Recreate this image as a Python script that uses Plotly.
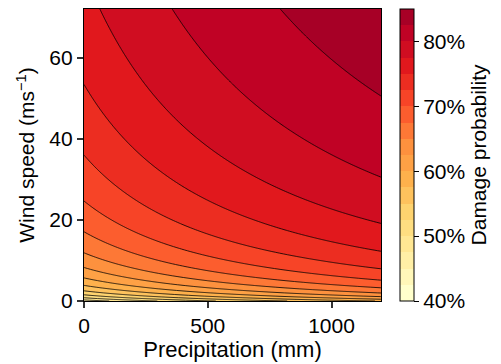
import numpy as np
import plotly.graph_objects as go

# Axis extents
precip_range = [0, 1200]      # mm
wind_range = [0, 72]          # m/s

# Fitted response-surface coefficients (logit of damage probability)
coef_intercept = -0.25
coef_wind = 0.337
wind_offset = 1.3
coef_precip = 0.513
precip_scale = 800.0

# Contour levels (%)
level_start = 40
level_end = 85
level_step = 2.5

# Colour bar ticks
cbar_tickvals = [40, 50, 60, 70, 80]
cbar_ticktext = ["40%", "50%", "60%", "70%", "80%"]

ylorrd_hex = ["#ffffcc", "#ffeda0", "#fed976", "#feb24c", "#fd8d3c",
              "#fc4e2a", "#e31a1c", "#bd0026", "#800026"]
cmap_top = 0.92   # fraction of the colour map reached by the highest band


def interp_color(s):
    rgb = [tuple(int(h[i:i + 2], 16) for i in (1, 3, 5)) for h in ylorrd_hex]
    pos = s * (len(rgb) - 1)
    i = min(int(pos), len(rgb) - 2)
    f = pos - i
    c = [round(rgb[i][k] + (rgb[i + 1][k] - rgb[i][k]) * f) for k in range(3)]
    return "rgb(%d,%d,%d)" % tuple(c)


n_bands = int(round((level_end - level_start) / level_step))
band_colors = [interp_color(cmap_top * k / (n_bands - 1)) for k in range(n_bands)]

step_scale = []
for k, c in enumerate(band_colors):
    step_scale.append([k / n_bands, c])
    step_scale.append([(k + 1) / n_bands, c])

precip = np.linspace(precip_range[0], precip_range[1], 301)
wind = np.linspace(wind_range[0], wind_range[1], 361)
P, W = np.meshgrid(precip, wind)
logit = (coef_intercept + coef_wind * np.log(W + wind_offset)
         + coef_precip * np.log(1 + P / precip_scale))
prob = 100.0 / (1.0 + np.exp(-logit))

FONT = "Arial"
fs = 21
xtitle_font = dict(family=FONT, size=22, color="black")
ytitle_font = dict(family=FONT, size=21, color="black")

# page body has an 8 px margin: shrink the figure so it fits the 501x364 window
OFF = 8
W_FIG, H_FIG = 501 - OFF, 364 - OFF
L, R, T, B = 84 - OFF, 120, 9 - OFF, 63
plot_w = W_FIG - L - R

fig = go.Figure()
fig.add_trace(go.Contour(
    x=precip, y=wind, z=prob,
    colorscale=step_scale, zmin=level_start, zmax=level_end,
    autocontour=False, showscale=False,
    contours=dict(start=level_start, end=level_end, size=level_step,
                  coloring="fill", showlines=True),
    line=dict(color="black", width=0.8, smoothing=1),
    hoverinfo="skip",
))
# colour bar
fig.add_trace(go.Scatter(
    x=[None], y=[None], mode="markers", showlegend=False, hoverinfo="skip",
    marker=dict(color=[level_start, level_end], colorscale=step_scale,
                cmin=level_start, cmax=level_end, showscale=True,
                colorbar=dict(
                    x=1 + (400 - 381) / plot_w, xanchor="left", xpad=0,
                    y=0.5, yanchor="middle",
                    len=1, lenmode="fraction", ypad=0,
                    thickness=14, outlinecolor="black", outlinewidth=1,
                    tickvals=cbar_tickvals, ticktext=cbar_ticktext,
                    ticks="outside", ticklen=5, tickcolor="black",
                    tickfont=dict(family=FONT, size=fs, color="black"),
                    title=dict(text="Damage probability", side="right",
                               font=ytitle_font),
                )),
))

fig.update_layout(
    width=W_FIG, height=H_FIG,
    margin=dict(l=L, r=R, t=T, b=B, autoexpand=False),
    paper_bgcolor="white", plot_bgcolor="white",
    font=dict(family=FONT, size=fs, color="black"),
    xaxis=dict(range=precip_range, dtick=500, tick0=0, showgrid=False, zeroline=False,
               showline=True, mirror=True, linecolor="black", linewidth=1.2,
               ticks="outside", ticklen=6, tickcolor="#333", tickwidth=1.5,
               title=dict(text="Precipitation (mm)", standoff=3, font=xtitle_font),
               tickfont=dict(size=fs)),
    yaxis=dict(range=wind_range, dtick=20, tick0=0, showgrid=False, zeroline=False,
               showline=True, mirror=True, linecolor="black", linewidth=1.2,
               ticks="outside", ticklen=6, tickcolor="#333", tickwidth=1.5,
               title=dict(text="Wind speed (ms<sup>−1</sup>)", standoff=8, font=ytitle_font),
               tickfont=dict(size=fs)),
)

fig.write_html("out.html")
